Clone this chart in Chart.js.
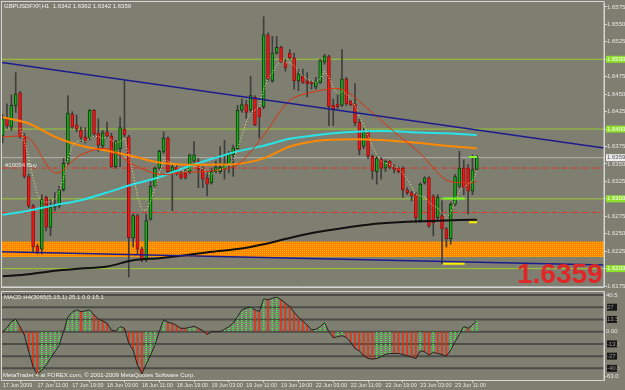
<!DOCTYPE html>
<html>
<head>
<meta charset="utf-8">
<script src="https://cdn.jsdelivr.net/npm/chart.js@4.4.1/dist/chart.umd.min.js"></script>
<style>
  html, body { margin: 0; padding: 0; background: #7f7f71; }
  #wrap { position: relative; width: 625px; height: 390px; overflow: hidden; }
  canvas { position: absolute; left: 0; }
  #main { top: 0; }
  #macd { top: 286px; }
</style>
</head>
<body>
<div id="wrap">
  <canvas id="main" width="625" height="290"></canvas>
  <canvas id="macd" width="625" height="104"></canvas>
</div>
<script>
// ---- data (GBPUSD H1, one entry per bar) ----
const opens  = [1.6391,1.6415,1.6403,1.6434,1.6452,1.6389,1.6332,1.6290,1.6232,1.6228,1.6302,1.6259,1.6288,1.6290,1.6313,1.6351,1.6421,1.6406,1.6398,1.6389,
                1.6387,1.6427,1.6394,1.6376,1.6396,1.6390,1.6346,1.6372,1.6400,1.6389,1.6244,1.6276,1.6228,1.6212,1.6271,1.6318,1.6344,1.6368,1.6387,1.6339,
                1.6346,1.6336,1.6337,1.6339,1.6354,1.6354,1.6342,1.6330,1.6323,1.6339,1.6339,1.6342,1.6349,1.6363,1.6372,1.6427,1.6435,1.6427,1.6446,1.6430,
                1.6432,1.6535,1.6469,1.6509,1.6517,1.6496,1.6509,1.6502,1.6469,1.6476,1.6469,1.6467,1.6460,1.6467,1.6496,1.6504,1.6434,1.6436,1.6434,1.6472,
                1.6440,1.6436,1.6410,1.6375,1.6396,1.6361,1.6339,1.6357,1.6344,1.6354,1.6346,1.6344,1.6344,1.6313,1.6309,1.6306,1.6269,1.6323,1.6330,1.6304,
                1.6273,1.6276,1.6257,1.6243,1.6292,1.6318,1.6344,1.6344,1.6311,1.6342];
const highs  = [1.6421,1.6436,1.6449,1.6481,1.6454,1.6394,1.6335,1.6292,1.6235,1.6306,1.6304,1.6299,1.6309,1.6318,1.6358,1.6448,1.6425,1.6420,1.6403,1.6402,
                1.6428,1.6428,1.6415,1.6398,1.6410,1.6394,1.6384,1.6417,1.6469,1.6391,1.6278,1.6278,1.6231,1.6278,1.6325,1.6346,1.6370,1.6396,1.6389,1.6349,
                1.6349,1.6339,1.6342,1.6364,1.6382,1.6358,1.6346,1.6339,1.6344,1.6354,1.6375,1.6384,1.6368,1.6377,1.6434,1.6443,1.6441,1.6476,1.6448,1.6432,
                1.6561,1.6538,1.6533,1.6533,1.6519,1.6500,1.6514,1.6509,1.6486,1.6486,1.6481,1.6469,1.6474,1.6500,1.6507,1.6506,1.6443,1.6450,1.6514,1.6474,
                1.6443,1.6465,1.6415,1.6401,1.6398,1.6363,1.6361,1.6359,1.6356,1.6355,1.6349,1.6346,1.6346,1.6316,1.6311,1.6309,1.6323,1.6332,1.6332,1.6306,
                1.6306,1.6297,1.6259,1.6295,1.6335,1.6368,1.6356,1.6349,1.6363,1.6362];
const lows   = [1.6380,1.6401,1.6398,1.6424,1.6387,1.6330,1.6287,1.6224,1.6221,1.6221,1.6254,1.6247,1.6283,1.6287,1.6311,1.6349,1.6401,1.6396,1.6382,1.6380,
                1.6384,1.6389,1.6368,1.6372,1.6387,1.6345,1.6344,1.6346,1.6389,1.6188,1.6231,1.6221,1.6210,1.6210,1.6269,1.6316,1.6342,1.6365,1.6337,1.6283,
                1.6334,1.6328,1.6328,1.6336,1.6351,1.6316,1.6316,1.6304,1.6321,1.6337,1.6336,1.6328,1.6337,1.6332,1.6370,1.6424,1.6415,1.6424,1.6405,1.6387,
                1.6429,1.6469,1.6467,1.6507,1.6495,1.6483,1.6500,1.6457,1.6455,1.6465,1.6446,1.6457,1.6457,1.6465,1.6493,1.6405,1.6405,1.6429,1.6432,1.6434,
                1.6433,1.6405,1.6363,1.6372,1.6358,1.6328,1.6321,1.6328,1.6339,1.6343,1.6337,1.6337,1.6302,1.6306,1.6297,1.6266,1.6266,1.6321,1.6259,1.6247,
                1.6269,1.6207,1.6231,1.6235,1.6290,1.6316,1.6306,1.6278,1.6306,1.6342];
const closes = [1.6415,1.6405,1.6434,1.6450,1.6389,1.6332,1.6290,1.6231,1.6225,1.6299,1.6259,1.6288,1.6292,1.6313,1.6351,1.6423,1.6403,1.6400,1.6388,1.6383,
                1.6427,1.6393,1.6377,1.6395,1.6390,1.6346,1.6382,1.6402,1.6392,1.6244,1.6276,1.6228,1.6212,1.6269,1.6318,1.6344,1.6368,1.6387,1.6339,1.6346,
                1.6336,1.6330,1.6330,1.6363,1.6363,1.6342,1.6328,1.6321,1.6339,1.6346,1.6345,1.6351,1.6364,1.6373,1.6427,1.6435,1.6424,1.6448,1.6406,1.6417,
                1.6535,1.6472,1.6509,1.6517,1.6496,1.6488,1.6502,1.6469,1.6479,1.6467,1.6465,1.6465,1.6469,1.6498,1.6505,1.6432,1.6429,1.6432,1.6472,1.6436,
                1.6435,1.6409,1.6370,1.6396,1.6361,1.6340,1.6358,1.6344,1.6354,1.6345,1.6342,1.6339,1.6313,1.6309,1.6304,1.6273,1.6321,1.6330,1.6261,1.6266,
                1.6302,1.6257,1.6243,1.6292,1.6332,1.6344,1.6316,1.6311,1.6342,1.6359];

// fast dotted average, one value per bar
const fastMA = [null,null,null,null,1.6401,1.6382,1.6358,1.6330,1.6306,1.6297,1.6295,1.6296,1.6299,1.6311,1.6330,1.6358,1.6375,1.6382,1.6384,1.6382,
                1.6387,1.6390,1.6389,1.6387,1.6388,1.6384,1.6380,1.6382,1.6387,1.6363,1.6335,1.6304,1.6285,1.6283,1.6297,1.6316,1.6337,1.6356,1.6354,1.6351,
                1.6346,1.6342,1.6339,1.6343,1.6346,1.6346,1.6343,1.6337,1.6335,1.6339,1.6342,1.6345,1.6349,1.6356,1.6372,1.6391,1.6410,1.6424,1.6427,1.6432,
                1.6457,1.6472,1.6481,1.6491,1.6498,1.6495,1.6495,1.6491,1.6483,1.6476,1.6472,1.6469,1.6467,1.6472,1.6483,1.6474,1.6460,1.6450,1.6455,1.6450,
                1.6443,1.6434,1.6417,1.6406,1.6391,1.6375,1.6363,1.6354,1.6351,1.6349,1.6346,1.6344,1.6337,1.6328,1.6318,1.6306,1.6304,1.6303,1.6295,1.6290,
                1.6287,1.6280,1.6273,1.6280,1.6297,1.6311,1.6316,1.6321,1.6325,1.6339];

// slow averages, read every 6 bars
const maIdx    = [0,6,12,18,24,30,36,42,48,54,60,66,72,78,84,90,96,102,108,109];
const redMA    = [1.6389,1.6387,1.6337,1.6363,1.6372,1.6349,1.6335,1.6338,1.6340,1.6349,1.6391,1.6441,1.6454,1.6457,1.6429,1.6396,1.6365,1.6327,1.6323,1.6325];
const orangeMA = [1.6417,1.6408,1.6389,1.6376,1.6369,1.6361,1.6352,1.6349,1.6349,1.6350,1.6358,1.6375,1.6383,1.6385,1.6385,1.6383,1.6380,1.6376,1.6373,1.6372];
const cyanMA   = [1.6277,1.6283,1.6291,1.6298,1.6309,1.6321,1.6331,1.6345,1.6357,1.6368,1.6376,1.6386,1.6391,1.6395,1.6397,1.6397,1.6395,1.6394,1.6392,1.6391];
const blackMA  = [1.6189,1.6192,1.6197,1.6200,1.6203,1.6212,1.6215,1.6219,1.6224,1.6228,1.6235,1.6244,1.6252,1.6258,1.6263,1.6266,1.6268,1.6269,1.6270,1.6270];

const macdHist = [0,4.4,11.1,13.7,5.6,-3.7,-22.2,-38.9,-47.4,-42.6,-37.0,-29.6,-22.2,-14.8,0,15.9,21.5,24.1,22.2,22.9,
                  24.1,18.5,14.1,11.8,9.3,1.5,0.7,5.6,3.7,-13.0,-20.4,-37.0,-46.3,-35.9,-25.9,-14.8,0,13.0,10.4,9.3,
                  6.7,3.7,3.7,4.8,5.9,3.7,1.1,-3.0,0,0,0,2.6,5.6,9.3,16.7,24.1,25.9,27.4,24.1,22.2,
                  36.3,35.2,37.0,38.1,35.2,31.5,27.8,21.5,15.9,11.8,7.4,1.9,2.6,5.6,10.0,0,-6.7,-5.6,-4.4,-6.3,
                  -11.8,-18.5,-21.1,-26.6,-29.6,-30.3,-29.6,-27.8,-25.2,-24.1,-24.1,-24.1,-25.2,-26.6,-28.1,-29.6,-21.1,-22.2,-25.9,-22.9,
                  -24.1,-25.2,-27.0,-20.4,-11.1,-3.0,5.6,3.7,7.4,12.2];

const priceTicks  = [1.6575,1.6550,1.6525,1.6500,1.6475,1.6450,1.6425,1.6400,1.6375,1.6350,1.6325,1.6300,1.6275,1.6250,1.6225,1.6200,1.6175];
const levelPrices = [1.6500,1.6400,1.6300,1.6200];
const orderPrices = [1.63441,1.62804];
const bidPrice    = 1.6359;
const zonePrices  = [1.62166,1.62387];
const trendUpper  = [1.64955,1.63729];
const trendLower  = [1.62241,1.62050];
const hiMarks     = [[101.2,106.2,1.63006],[107.2,109.05,1.6360]];
const loMarks     = [[101.2,106.2,1.62071],[107.2,109.05,1.62666]];

const macdLevels  = [40.5,27.0,13.5,0,-13.5,-27.0,-40.5];
const timeIdx     = [0,8,16,24,32,40,48,56,64,72,80,88,96,104];
const timeLabels  = ['17 Jun 2009','17 Jun 11:00','17 Jun 19:00','18 Jun 03:00','18 Jun 11:00','18 Jun 19:00','19 Jun 03:00',
                     '19 Jun 11:00','19 Jun 19:00','22 Jun 03:00','22 Jun 11:00','22 Jun 19:00','23 Jun 03:00','23 Jun 11:00'];

const X_MIN = -0.15, X_MAX = 138.24;
const FONT = 'Liberation Sans';

// ---- helpers ----
function pattern(w, h, paint) {
  const c = document.createElement('canvas');
  c.width = w; c.height = h;
  paint(c.getContext('2d'));
  return c.getContext('2d').createPattern(c, 'repeat');
}
// orange zone, dithered like the gif
const zoneFill = pattern(2, 2, g => {
  g.fillStyle = '#ff8200'; g.fillRect(0, 0, 2, 2);
  g.fillStyle = '#ffb400'; g.fillRect(0, 0, 1, 1);
});
const dotGreen = pattern(1, 2, g => { g.fillStyle = '#3cff3c'; g.fillRect(0, 0, 1, 1); });

const hline = (y) => [{ x: X_MIN, y }, { x: X_MAX, y }];
const seg = (m) => [{ x: m[0], y: m[2] }, { x: m[1], y: m[2] }];
const sampled = (arr) => maIdx.map((x, k) => ({ x, y: arr[k] }));
const perBar = (arr) => arr.map((y, x) => ({ x, y }));
const isUp = closes.map((c, i) => c >= opens[i]);

const lineDs = (data, color, width, order, extra) => Object.assign({
  type: 'line', data, borderColor: color, borderWidth: width, pointRadius: 0,
  fill: false, order, tension: 0
}, extra || {});

// ---- main price window ----
const mainDecor = {
  id: 'mainDecor',
  afterDraw(chart) {
    const { ctx, chartArea: a, scales: { y } } = chart;
    ctx.save();
    ctx.strokeStyle = '#d6d6d6';
    ctx.lineWidth = 1;
    ctx.strokeRect(1.5, 1.5, a.right - 1.5, a.bottom - 1);

    ctx.font = '6px ' + FONT;
    ctx.textBaseline = 'middle';
    ctx.textAlign = 'left';
    levelPrices.forEach(v => {
      const py = y.getPixelForValue(v);
      ctx.fillStyle = '#8ee02a';
      ctx.fillRect(a.right + 2, py - 3.5, 19, 7);
      ctx.fillStyle = '#ffffff';
      ctx.fillText(v.toFixed(4), a.right + 3, py);
    });
    const by = y.getPixelForValue(bidPrice);
    ctx.fillStyle = '#ececec';
    ctx.fillRect(a.right + 2, by - 3.5, 19, 7);
    ctx.fillStyle = '#555555';
    ctx.fillText(bidPrice.toFixed(4), a.right + 3, by);

    ctx.fillStyle = '#f2f2f2';
    ctx.fillText('GBPUSDFXF,H1  1.6342 1.6362 1.6342 1.6359', 4, 6);
    ctx.fillStyle = '#e4e4e4';
    ctx.fillText('#10054 Buy', 5, y.getPixelForValue(orderPrices[0]) - 3);

    ctx.font = 'bold 28px ' + FONT;
    ctx.textBaseline = 'alphabetic';
    ctx.fillStyle = '#e02626';
    ctx.fillText('1.6359', 517, 283);
    ctx.restore();
  }
};

new Chart(document.getElementById('main'), {
  type: 'bar',
  data: {
    datasets: [
      lineDs(hline(zonePrices[1]), 'rgba(0,0,0,0)', 0, 100, { fill: { value: zonePrices[0] }, backgroundColor: zoneFill }),
      ...levelPrices.map(v => lineDs(hline(v), '#99cc33', 1, 90)),
      lineDs(hline(bidPrice), '#b4b4b0', 1, 89),
      ...orderPrices.map(v => lineDs(hline(v), '#e4301a', 1, 88, { borderDash: [5, 2, 1, 2] })),
      {
        type: 'bar', data: perBar(lows.map((l, i) => [l, highs[i]])),
        backgroundColor: '#3e3e3e', barThickness: 1, grouped: false, order: 60
      },
      {
        type: 'bar', data: perBar(opens.map((o, i) => [o, closes[i]])),
        backgroundColor: isUp.map(u => u ? '#12b012' : '#f01818'),
        borderColor: isUp.map(u => u ? '#123812' : '#901010'),
        borderWidth: 1, borderSkipped: false, barThickness: 3, grouped: false, order: 55
      },
      lineDs(sampled(blackMA), '#111111', 2, 40, { tension: 0.3 }),
      lineDs(sampled(cyanMA), '#28e4e8', 2, 39, { tension: 0.3 }),
      lineDs(sampled(orangeMA), '#ff8a00', 2, 38, { tension: 0.3 }),
      lineDs(sampled(redMA), '#e0300c', 1, 37, { tension: 0.3 }),
      lineDs(perBar(fastMA), '#ecec8a', 1, 36, { borderDash: [1, 2] }),
      lineDs([{ x: X_MIN, y: trendUpper[0] }, { x: X_MAX, y: trendUpper[1] }], '#1c1c8e', 1.5, 20),
      lineDs([{ x: X_MIN, y: trendLower[0] }, { x: X_MAX, y: trendLower[1] }], '#1c1c8e', 1.5, 20),
      ...hiMarks.map(m => lineDs(seg(m), '#7cff20', 2, 10)),
      ...loMarks.map(m => lineDs(seg(m), '#ffee00', 2, 10))
    ]
  },
  options: {
    responsive: false,
    animation: false,
    devicePixelRatio: 1,
    layout: { padding: { left: 2, top: 2, right: 0, bottom: 2 } },
    plugins: { legend: { display: false }, tooltip: { enabled: false } },
    scales: {
      x: { type: 'linear', min: X_MIN, max: X_MAX, offset: false, display: false },
      y: {
        position: 'right',
        min: 1.61745, max: 1.65798,
        afterFit: s => { s.width = 21; },
        afterBuildTicks: s => { s.ticks = priceTicks.map(v => ({ value: v })); },
        ticks: { font: { size: 6, family: FONT }, color: '#e6e6e6', padding: 0, callback: v => v.toFixed(4) },
        grid: { drawOnChartArea: false, color: '#d6d6d6', tickLength: 3 },
        border: { color: '#d6d6d6' }
      }
    }
  },
  plugins: [mainDecor]
});

// ---- MACD window ----
const macdDecor = {
  id: 'macdDecor',
  afterDraw(chart) {
    const { ctx, chartArea: a, scales: { y } } = chart;
    ctx.save();
    ctx.strokeStyle = '#d6d6d6';
    ctx.lineWidth = 1;
    ctx.strokeRect(1.5, a.top - 0.5, a.right - 1.5, a.bottom - a.top + 0.5);
    ctx.beginPath();
    ctx.moveTo(1, 1.5); ctx.lineTo(a.right, 1.5);
    ctx.stroke();

    ctx.font = '6px ' + FONT;
    ctx.textBaseline = 'middle';
    ctx.textAlign = 'left';
    macdLevels.forEach((v, k) => {
      const py = y.getPixelForValue(v);
      if (k === 0 || v === 0) {
        ctx.fillStyle = '#e6e6e6';
        ctx.fillText(v === 0 ? '0.00' : v.toFixed(1), a.right + 2, py);
      } else {
        ctx.fillStyle = '#161616';
        ctx.fillRect(a.right + 3, py - 3.5, 10, 7);
        ctx.fillStyle = '#9a9a9a';
        ctx.fillText(Math.abs(v) === 13.5 ? v.toFixed(1) : String(v), a.right + 3, py);
      }
    });
    ctx.fillStyle = '#e6e6e6';
    ctx.fillText('-63.0', a.right + 1, a.bottom - 4);

    ctx.fillStyle = '#f2f2f2';
    ctx.fillText('MACD H4(3065(5,15,1) 25.1 0.0 15.1', 4, a.top + 5);
    ctx.fillText('MetaTrader 4 at FOREX.com, \u00a9 2001-2009 MetaQuotes Software Corp.', 3, a.bottom - 5);
    ctx.restore();
  }
};

new Chart(document.getElementById('macd'), {
  type: 'bar',
  data: {
    datasets: [
      ...macdLevels.map(v => lineDs(hline(v), '#4c4c4a', 2, 90)),
      {
        type: 'bar', data: perBar(macdHist),
        backgroundColor: macdHist.map((v, i) => (i > 0 && v > macdHist[i - 1]) ? dotGreen : '#e8300f'),
        barThickness: 0.9, grouped: false, order: 50
      },
      lineDs(perBar(macdHist), '#222222', 1, 40)
    ]
  },
  options: {
    responsive: false,
    animation: false,
    devicePixelRatio: 1,
    layout: { padding: { left: 2, top: 6, right: 0, bottom: 0 } },
    plugins: { legend: { display: false }, tooltip: { enabled: false } },
    scales: {
      x: {
        type: 'linear', min: X_MIN, max: X_MAX, offset: false,
        afterFit: s => { s.height = 9.5; },
        afterBuildTicks: s => { s.ticks = timeIdx.map(v => ({ value: v })); },
        ticks: {
          font: { size: 5.4, family: FONT }, color: '#e6e6e6', padding: 0, align: 'start',
          maxRotation: 0, autoSkip: false,
          callback: v => timeLabels[timeIdx.indexOf(v)]
        },
        grid: { drawOnChartArea: false, color: '#d6d6d6', tickLength: 2 },
        border: { color: '#d6d6d6' }
      },
      y: {
        position: 'right',
        min: -53.9, max: 43.8,
        afterFit: s => { s.width = 21; },
        ticks: { display: false },
        grid: { drawOnChartArea: false, drawTicks: false },
        border: { color: '#d6d6d6' }
      }
    }
  },
  plugins: [macdDecor]
});
</script>
</body>
</html>
